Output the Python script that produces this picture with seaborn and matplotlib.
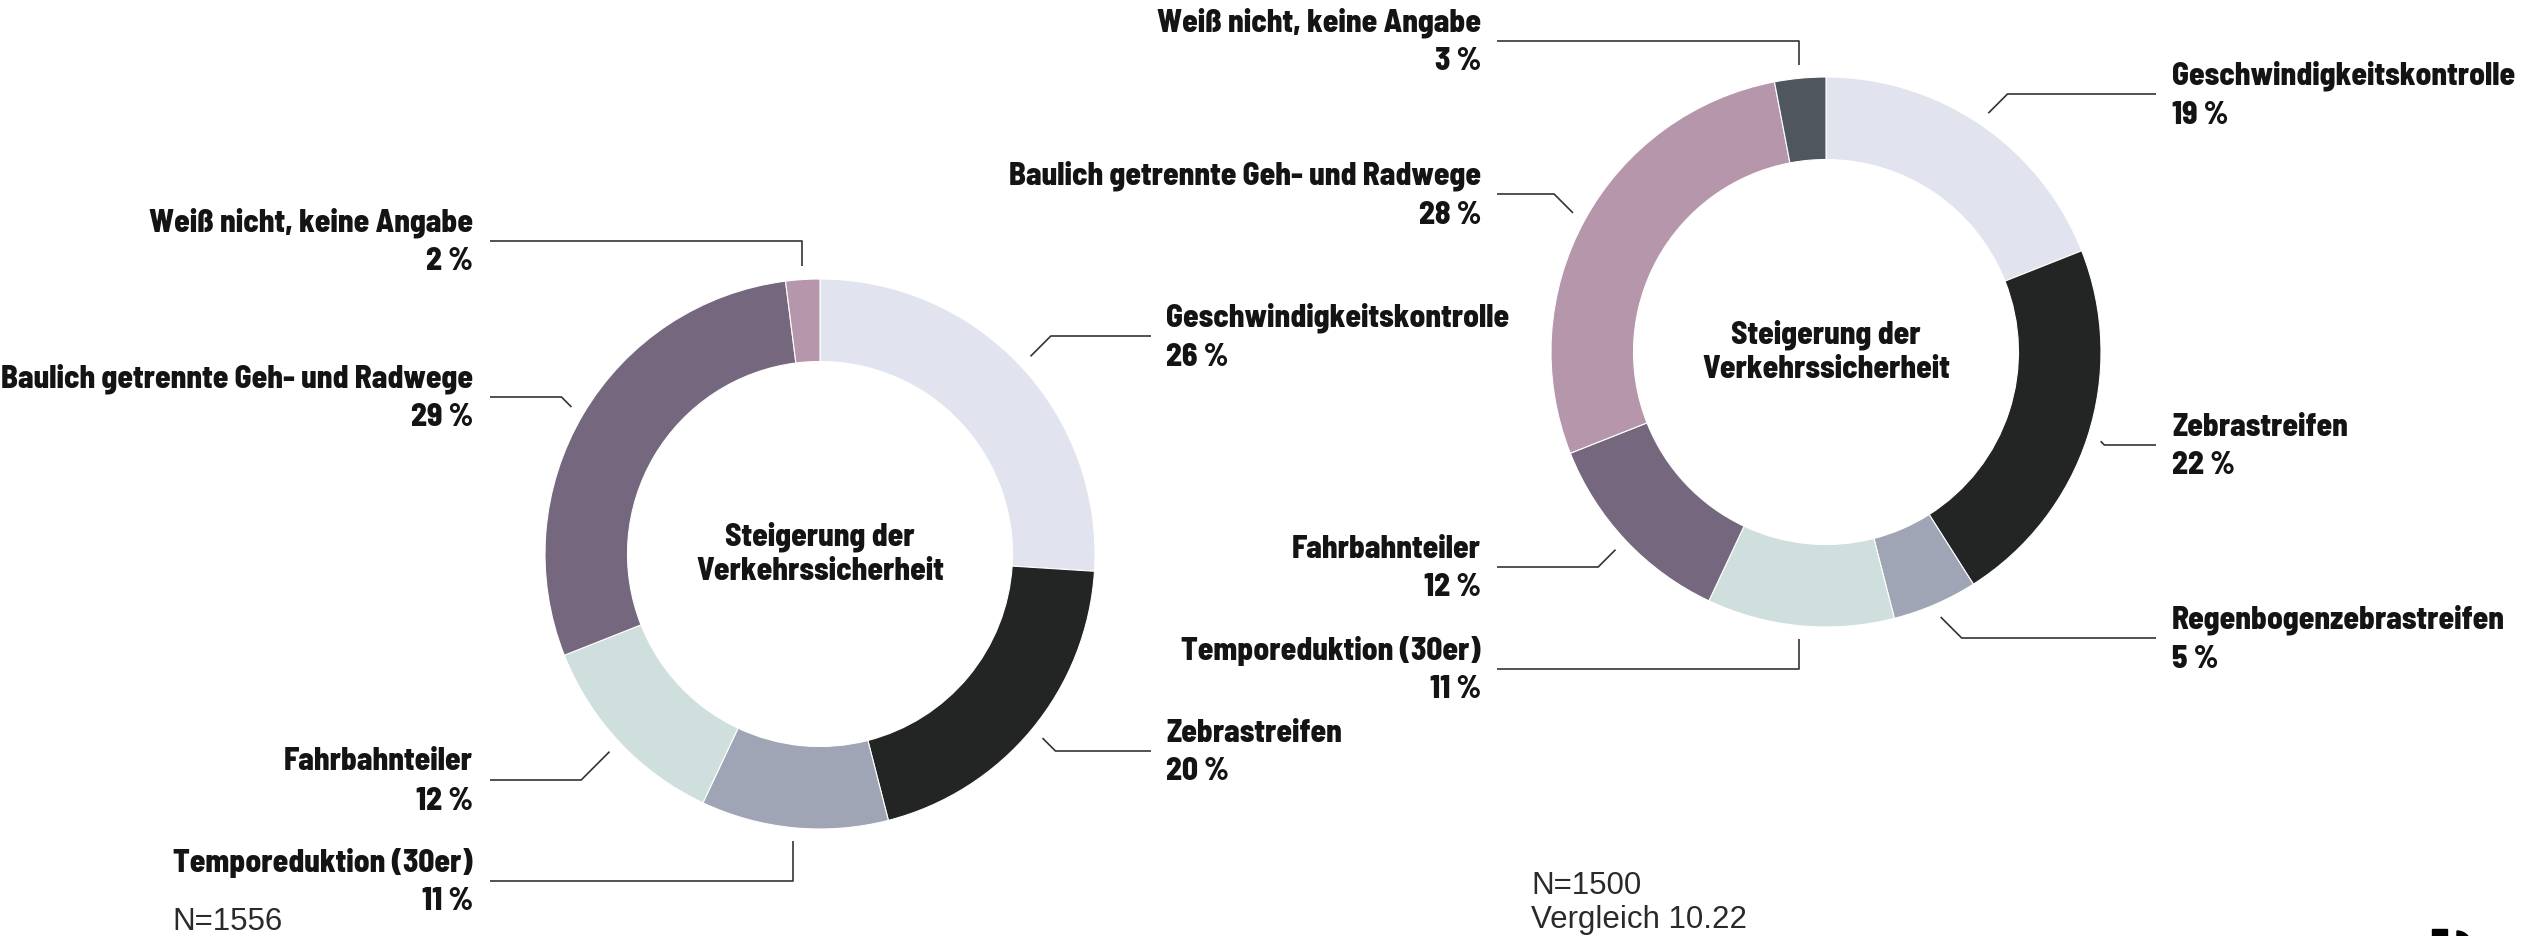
import matplotlib
matplotlib.use('Agg')
import numpy as np
import matplotlib.pyplot as plt
import matplotlib.patches as mpatches
import seaborn as sns

# ── Data ──────────────────────────────────────────────────────────────────────
LEFT_CATS = ['Geschwindigkeitskontrolle', 'Zebrastreifen', 'Temporeduktion (30er)',
             'Fahrbahnteiler', 'Baulich getrennte Geh- und Radwege',
             'Weiß nicht, keine Angabe']
LEFT_VALS = [26, 20, 11, 12, 29, 2]

RIGHT_CATS = ['Geschwindigkeitskontrolle', 'Zebrastreifen', 'Regenbogenzebrastreifen',
              'Temporeduktion (30er)', 'Fahrbahnteiler',
              'Baulich getrennte Geh- und Radwege', 'Weiß nicht, keine Angabe']
RIGHT_VALS = [19, 22, 5, 11, 12, 28, 3]

CENTER_TEXT = 'Steigerung der\nVerkehrssicherheit'
LEFT_NOTE = 'N=1556'
RIGHT_NOTE = 'N=1500\nVergleich 10.22'

PALETTE = ['#e1e3ee', '#232524', '#9fa5b4', '#cfdfdd', '#75687e', '#b696ab', '#4f565e']

# ── Layout (pixel coords, y downwards) ────────────────────────────────────────
W, H = 2529, 936
R = 275
LEFT_CENTER = (820, 554)
RIGHT_CENTER = (1826, 352)
# y of the horizontal leader segment for each label
LEFT_LINE_Y = [336, 751, 881, 780, 397, 241]
RIGHT_LINE_Y = [94, 445, 638, 669, 567, 194, 41]
# (text x on left side, line start), (text x on right side, line end)
LEFT_COLS = ((473, 490), (1166, 1151))
RIGHT_COLS = ((1481, 1497), (2172, 2156))

sns.set_theme(style='white')
plt.rcParams['font.family'] = ['Barlow Semi Condensed', 'DejaVu Sans']

BOLD = dict(fontsize=22.5, fontweight=800, color='#141414')
LINE_KW = dict(color='#333333', lw=1.2, solid_capstyle='butt')


def donut(ax, vals, cats, center, line_ys, cols):
    wedges, _ = ax.pie(vals, colors=PALETTE[:len(vals)], startangle=-90,
                       counterclock=True, radius=R, center=center,
                       wedgeprops=dict(width=R * 0.3, edgecolor='white', linewidth=0.8))
    cx, cy = center
    for w, cat, val, ly in zip(wedges, cats, vals, line_ys):
        mid = np.deg2rad((w.theta1 + w.theta2) / 2)
        ex = cx + R * 1.05 * np.cos(mid)
        ey = cy + R * 1.05 * np.sin(mid)
        right = np.cos(mid) > 0
        # near top/bottom -> vertical leader, else 45° diagonal
        if abs(np.cos(mid)) < 0.3:
            elbow_x = ex
        else:
            elbow_x = ex + abs(ly - ey) * (1 if right else -1)
        if right:
            tx, lx = cols[1]
            ha = 'left'
        else:
            tx, lx = cols[0]
            ha = 'right'
        ax.plot([ex, elbow_x, lx], [ey, ly, ly], **LINE_KW)
        ax.text(tx, ly - 18, cat, ha=ha, va='center', **BOLD)
        ax.text(tx, ly + 21, f'{val} %', ha=ha, va='center', **BOLD)
    ax.text(cx, cy, CENTER_TEXT, ha='center', va='center', linespacing=1.2, **BOLD)


fig = plt.figure(figsize=(W / 100, H / 100), dpi=100)
ax = fig.add_axes([0, 0, 1, 1])

donut(ax, LEFT_VALS, LEFT_CATS, LEFT_CENTER, LEFT_LINE_Y, LEFT_COLS)
donut(ax, RIGHT_VALS, RIGHT_CATS, RIGHT_CENTER, RIGHT_LINE_Y, RIGHT_COLS)

ax.set_xlim(0, W)
ax.set_ylim(H, 0)
ax.set_aspect('equal')
ax.axis('off')

NOTE_KW = dict(fontsize=22.5, color='#2a2a2a', family=['Liberation Sans', 'DejaVu Sans'],
               ha='left', va='center', linespacing=1.2)
ax.text(172, 922, LEFT_NOTE, **NOTE_KW)
ax.text(1531, 903, RIGHT_NOTE, **NOTE_KW)

# cut-off logo in the bottom right corner
ax.add_patch(mpatches.Rectangle((2432, 929), 15, 10, color='black'))
ax.add_patch(mpatches.Wedge((2457, 945), 14, 270, 90, color='black'))

fig.savefig('out.png', dpi=100, facecolor='white')
